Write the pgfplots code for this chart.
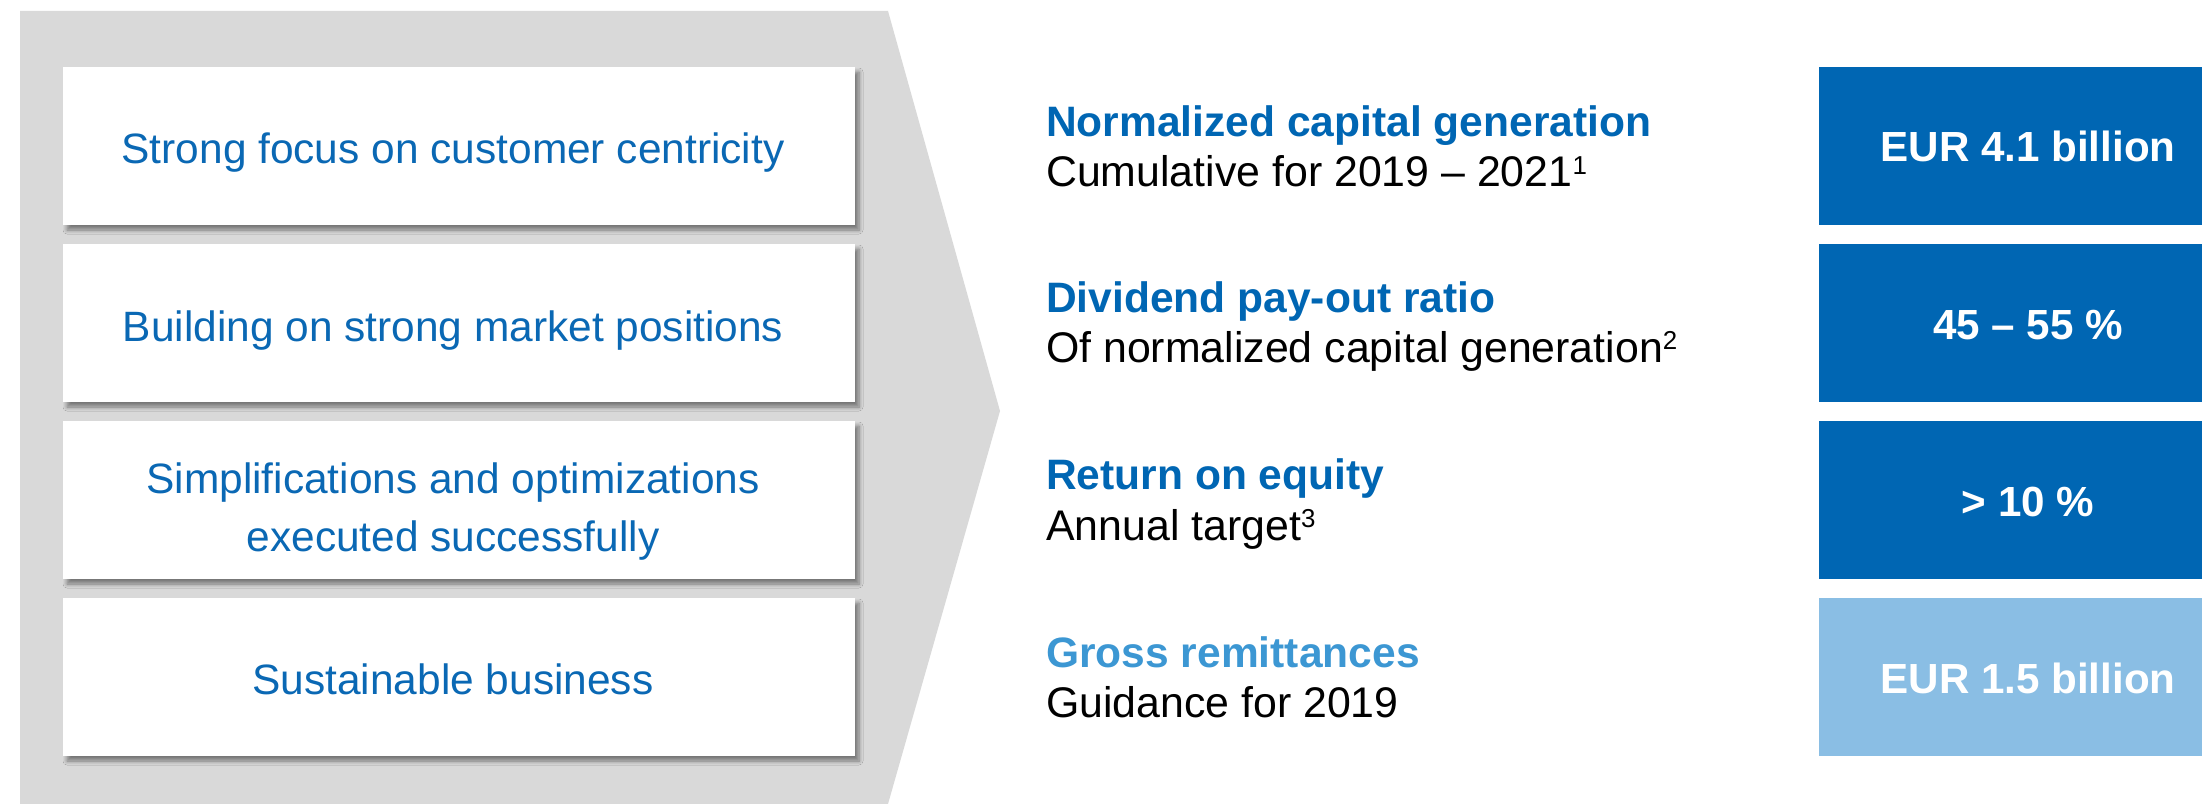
\documentclass[border=0pt]{standalone}
\usepackage{fontspec}
\setmainfont{Liberation Sans}
\usepackage{pgfplots}
\pgfplotsset{compat=1.18}
\usetikzlibrary{shadows.blur}

\definecolor{chev}{HTML}{D9D9D9}
\definecolor{dblue}{HTML}{0066B3}
\definecolor{lblue}{HTML}{8ABEE4}
\definecolor{mblue}{HTML}{3C97D3}
\definecolor{txtblue}{HTML}{0A68B4}

\newcommand{\fn}[1]{\raisebox{0.3em}{\fontsize{26}{26}\selectfont #1}}

\begin{document}
\begin{tikzpicture}
\tikzset{wbox/.style={white, blur shadow={shadow xshift=4bp, shadow yshift=-5bp,
        shadow blur radius=4bp, shadow blur steps=6, shadow opacity=45}},
         kt/.style={anchor=base west, inner sep=0pt, font=\fontsize{42.7}{50}\selectfont\bfseries},
         ks/.style={anchor=base west, inner sep=0pt, font=\fontsize{43}{50}\selectfont, text=black},
         lt/.style={anchor=base, inner sep=0pt, font=\fontsize{42.6}{50}\selectfont, text=txtblue},
         bt/.style={anchor=base, inner sep=0pt, font=\fontsize{42.3}{50}\selectfont\bfseries, text=white}}
\begin{axis}[
  width=2202bp, height=804bp, scale only axis,
  xmin=0, xmax=2202, ymin=0, ymax=804, y dir=reverse,
  hide axis, clip=false,
]
% full canvas
\path (axis cs:0,0) rectangle (axis cs:2202,804);
% grey chevron
\fill[chev] (axis cs:20,11) -- (axis cs:888,11) -- (axis cs:1000,411)
  -- (axis cs:888,804) -- (axis cs:20,804) -- cycle;

% white boxes with shadow
\fill[wbox] (axis cs:63,67) rectangle (axis cs:855,225);
\fill[wbox] (axis cs:63,244) rectangle (axis cs:855,402);
\fill[wbox] (axis cs:63,421) rectangle (axis cs:855,579);
\fill[wbox] (axis cs:63,598) rectangle (axis cs:855,756);
\node[lt] at (axis cs:453,164) {Strong focus on customer centricity};
\node[lt] at (axis cs:453,341) {Building on strong market positions};
\node[lt] at (axis cs:453,493) {Simplifications and optimizations};
\node[lt] at (axis cs:453,551) {executed successfully};
\node[lt] at (axis cs:453,694) {Sustainable business};

% right-hand blue boxes
\fill[dblue] (axis cs:1819,67) rectangle (axis cs:2202,225);
\fill[dblue] (axis cs:1819,244) rectangle (axis cs:2202,402);
\fill[dblue] (axis cs:1819,421) rectangle (axis cs:2202,579);
\fill[lblue] (axis cs:1819,598) rectangle (axis cs:2202,756);
\node[bt] at (axis cs:2028,162) {EUR 4.1 billion};
\node[bt] at (axis cs:2028,339) {45 – 55 \%};
\node[bt] at (axis cs:2028,516) {> 10 \%};
\node[bt] at (axis cs:2028,693) {EUR 1.5 billion};

% KPI labels
\node[kt, text=dblue] at (axis cs:1046,137) {Normalized capital generation};
\node[ks] at (axis cs:1046,187) {Cumulative for 2019 – 2021\fn{1}};
\node[kt, text=dblue] at (axis cs:1046,312) {Dividend pay-out ratio};
\node[ks] at (axis cs:1046,362) {Of normalized capital generation\fn{2}};
\node[kt, text=dblue] at (axis cs:1046,489) {Return on equity};
\node[ks] at (axis cs:1046,540) {Annual target\fn{3}};
\node[kt, text=mblue] at (axis cs:1046,667) {Gross remittances};
\node[ks] at (axis cs:1046,717) {Guidance for 2019};
\end{axis}
\end{tikzpicture}
\end{document}
